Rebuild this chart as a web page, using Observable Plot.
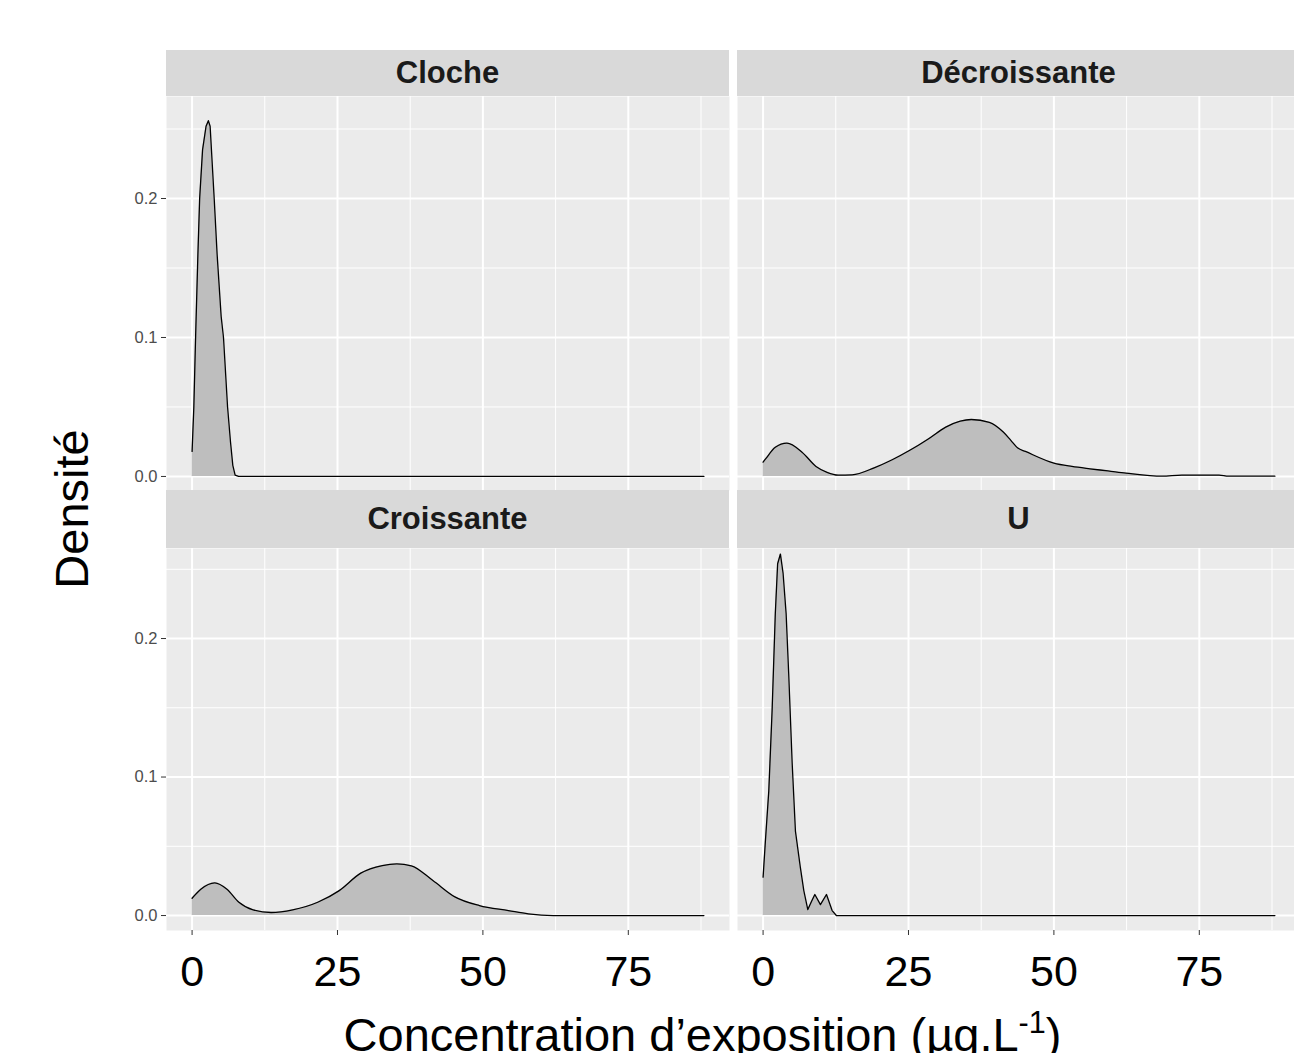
<!DOCTYPE html>
<html>
<head>
<meta charset="utf-8">
<script src="https://cdn.jsdelivr.net/npm/d3@7"></script>
<script src="https://cdn.jsdelivr.net/npm/@observablehq/plot@0.6"></script>
<style>
  html, body { margin: 0; padding: 0; background: #fff; overflow: hidden; }
  #root { position: relative; width: 1294px; height: 1053px; overflow: hidden; font-family: Arial, "Liberation Sans", sans-serif; }
  .abs { position: absolute; }
  .strip { position: absolute; background: #D9D9D9; display: flex; align-items: center; justify-content: center; font-weight: bold; font-size: 31px; color: #1A1A1A; }
</style>
</head>
<body>
<div id="root"></div>
<script>
// ---- Data ----
const facetNames = ["Cloche", "Décroissante", "Croissante", "U"];
const xTicks = [0, 25, 50, 75];
const xMinor = [12.5, 37.5, 62.5, 87.5];
const yTicks = [0, 0.1, 0.2];
const yMinor = [0.05, 0.15, 0.25];

const clocheX = [0, 0.3, 0.6, 1.0, 1.3, 1.8, 2.4, 2.8, 3.1, 3.8, 4.3, 5.0, 5.4, 6.1, 6.6, 7.0, 7.4, 8, 88];
const clocheY = [0.018, 0.05, 0.1, 0.16, 0.2, 0.235, 0.252, 0.256, 0.252, 0.2, 0.16, 0.115, 0.1, 0.05, 0.025, 0.008, 0.001, 0, 0];

const decroX = [0, 0.5, 2.1, 4.1, 6.7, 9.1, 11, 12.9, 15.3, 19.1, 22.2, 25.3, 28.4, 31.4, 33.9, 35.8, 38.9, 41.3, 42.6, 43.8, 45.1, 50.0, 53.1, 56.2, 59.3, 62.4, 68.6, 72, 78.4, 80, 88];
const decroY = [0.0103, 0.013, 0.021, 0.024, 0.0175, 0.0072, 0.003, 0.001, 0.0012, 0.0062, 0.012, 0.019, 0.027, 0.0355, 0.0398, 0.041, 0.039, 0.032, 0.026, 0.0204, 0.018, 0.0096, 0.0072, 0.0055, 0.004, 0.0024, 0.0002, 0.001, 0.001, 0.0002, 0.0002];

const croisX = [0, 1.5, 3.9, 6, 8.05, 10.5, 13.6, 17.3, 21.6, 25.3, 29.0, 32.7, 35.2, 37.7, 41.4, 45.1, 49.4, 54.4, 57.8, 62.1, 88];
const croisY = [0.0125, 0.019, 0.0236, 0.019, 0.0096, 0.0041, 0.0022, 0.0041, 0.0096, 0.018, 0.0306, 0.0361, 0.0373, 0.0359, 0.0253, 0.0137, 0.0072, 0.0036, 0.0012, 0, 0];

const uX = [0, 0.4, 0.98, 1.55, 2.1, 2.5, 2.98, 3.44, 3.96, 4.4, 5.0, 5.56, 6.4, 7.0, 7.69, 8.3, 8.9, 9.86, 10.9, 11.87, 12.6, 88];
const uY = [0.0277, 0.054, 0.09, 0.148, 0.218, 0.254, 0.261, 0.247, 0.218, 0.175, 0.11, 0.061, 0.035, 0.018, 0.0043, 0.01, 0.0152, 0.0079, 0.0152, 0.0036, 0, 0];

const series = [
  {name: facetNames[0], xs: clocheX, ys: clocheY, curve: "linear"},
  {name: facetNames[1], xs: decroX, ys: decroY, curve: "monotone-x"},
  {name: facetNames[2], xs: croisX, ys: croisY, curve: "monotone-x"},
  {name: facetNames[3], xs: uX, ys: uY, curve: "linear"}
];

// ---- Layout ----
const root = document.getElementById("root");
const colX = [166, 737];          // panel left edges
const panelW = 563;
const rows = [
  {stripTop: 50, stripH: 46, top: 96, h: 394, yDomain: [-0.0101, 0.2734]},
  {stripTop: 490, stripH: 58, top: 548, h: 382, yDomain: [-0.0108, 0.265]}
];

series.forEach((s, i) => {
  const col = i % 2, row = Math.floor(i / 2);
  const R = rows[row];
  const data = s.xs.map((x, k) => ({x, y: s.ys[k]}));
  const showY = col === 0, showX = row === 1;
  const marginLeft = showY ? 60 : 0;
  const marginBottom = showX ? 75 : 0;

  const strip = document.createElement("div");
  strip.className = "strip";
  strip.style.left = colX[col] + "px";
  strip.style.top = R.stripTop + "px";
  strip.style.width = panelW + "px";
  strip.style.height = R.stripH + "px";
  strip.textContent = s.name;
  root.appendChild(strip);

  const marks = [
    Plot.frame({fill: "#EBEBEB", stroke: null}),
    Plot.gridX(xMinor, {stroke: "white", strokeOpacity: 1, strokeWidth: 1}),
    Plot.gridY(yMinor, {stroke: "white", strokeOpacity: 1, strokeWidth: 1}),
    Plot.gridX(xTicks, {stroke: "white", strokeOpacity: 1, strokeWidth: 2}),
    Plot.gridY(yTicks, {stroke: "white", strokeOpacity: 1, strokeWidth: 2}),
    Plot.areaY(data, {x: "x", y: "y", fill: "#BEBEBE", curve: s.curve}),
    Plot.lineY(data, {x: "x", y: "y", stroke: "black", strokeWidth: 1.3, curve: s.curve})
  ];
  if (showY) marks.push(Plot.axisY(yTicks, {tickFormat: d3.format(".1f"), tickSize: 5, tickPadding: 4, fontSize: 16.5, color: "#4D4D4D", stroke: "#333", label: null}));
  if (showX) marks.push(Plot.axisX(xTicks, {tickSize: 5, tickPadding: 20, fontSize: 43, color: "#000", stroke: "#333", label: null}));

  const chart = Plot.plot({
    width: marginLeft + panelW,
    height: R.h + marginBottom,
    marginLeft, marginRight: 0, marginTop: 0, marginBottom,
    style: {fontFamily: "Arial, 'Liberation Sans', sans-serif", background: "transparent", overflow: "visible"},
    x: {domain: [-4.4, 92.4], axis: null},
    y: {domain: R.yDomain, axis: null},
    marks
  });
  chart.classList.add("abs");
  chart.style.left = (colX[col] - marginLeft) + "px";
  chart.style.top = R.top + "px";
  root.appendChild(chart);
});

// Axis titles
const xt = document.createElement("div");
xt.className = "abs";
xt.style.left = "0px"; xt.style.width = "1405px"; xt.style.textAlign = "center";
xt.style.top = "1008px"; xt.style.fontSize = "47px"; xt.style.lineHeight = "54px"; xt.style.whiteSpace = "nowrap";
xt.innerHTML = "Concentration d’exposition (µg.L<sup style='font-size:0.65em;vertical-align:0.6em;line-height:0'>-1</sup>)";
root.appendChild(xt);

const yt = document.createElement("div");
yt.className = "abs";
yt.style.left = "71px"; yt.style.top = "509px"; yt.style.fontSize = "47px"; yt.style.whiteSpace = "nowrap";
yt.style.transform = "translate(-50%, -50%) rotate(-90deg)";
yt.textContent = "Densité";
root.appendChild(yt);
</script>
</body>
</html>
